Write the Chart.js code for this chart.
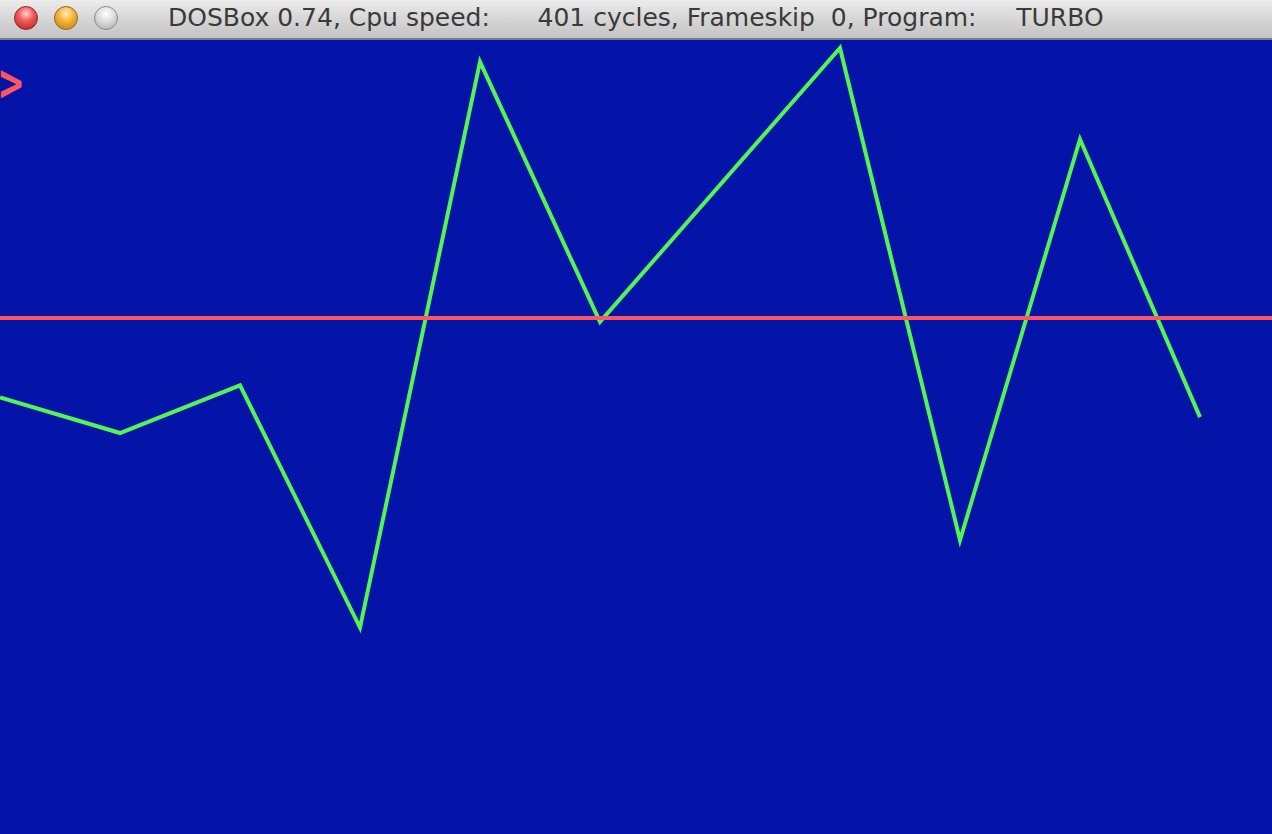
<!DOCTYPE html>
<html>
<head>
<meta charset="utf-8">
<script src="https://cdn.jsdelivr.net/npm/chart.js@4/dist/chart.umd.min.js"></script>
<style>
  html, body { margin: 0; padding: 0; width: 1272px; height: 834px; overflow: hidden; background: #0413a8; }
  #titlebar { position: absolute; left: 0; top: 0; width: 1272px; height: 38px;
    background: linear-gradient(#ececec, #d6d6d6 50%, #c4c4c4); border-bottom: 2px solid #7a7a7a; }
  .btn { position: absolute; top: 6px; width: 24px; height: 24px; border-radius: 50%; box-sizing: border-box; }
  #b1 { left: 14px; background: radial-gradient(circle at 50% 30%, #ffd0d0 0%, #f05a5a 40%, #b81c1c 100%); border: 1px solid #8a2a2a; }
  #b2 { left: 54px; background: radial-gradient(circle at 50% 30%, #fff0c0 0%, #f6b538 40%, #c07a0a 100%); border: 1px solid #8a6a2a; }
  #b3 { left: 94px; background: radial-gradient(circle at 50% 30%, #ffffff 0%, #dcdcdc 45%, #a8a8a8 100%); border: 1px solid #8a8a8a; }
  #title { position: absolute; left: 168px; top: 3px; font-family: "DejaVu Sans", sans-serif; font-size: 25px;
    color: #3a3a3a; white-space: pre; letter-spacing: 0px; }
  #prompt { position: absolute; left: -1px; top: 55px; font-family: "DejaVu Sans Mono", monospace; font-weight: bold;
    font-size: 40px; color: #ff5560; line-height: 1; transform: scaleY(1.35); transform-origin: top left; }
  #wrap { position: absolute; left: 0; top: 40px; width: 1272px; height: 794px; }
</style>
</head>
<body>
<div id="titlebar">
  <div class="btn" id="b1"></div><div class="btn" id="b2"></div><div class="btn" id="b3"></div>
  <div id="title">DOSBox 0.74, Cpu speed:      401 cycles, Frameskip  0, Program:     TURBO</div>
</div>
<div id="prompt">&gt;</div>
<div id="wrap"><canvas id="c" width="1272" height="794"></canvas></div>
<script>
// Data
const xSteps   = [0, 1, 2, 3, 4, 5, 7, 8, 9, 10];
const yValues  = [-20, -29, -17, -78, 64.5, -1, 68, -56, 45, -25];
const refX     = [0, 10.6];
const refY     = [0, 0];

const curve = xSteps.map((x, i) => ({ x: x, y: yValues[i] }));
const ref = refX.map((x, i) => ({ x: x, y: refY[i] }));

new Chart(document.getElementById('c'), {
  type: 'line',
  data: {
    datasets: [
      { data: ref, borderColor: '#ff5560', borderWidth: 4, pointRadius: 0, tension: 0 },
      { data: curve, borderColor: '#52f552', borderWidth: 4, pointRadius: 0, tension: 0, borderJoinStyle: 'miter' }
    ]
  },
  options: {
    responsive: false,
    animation: false,
    layout: { padding: 0 },
    plugins: { legend: { display: false }, tooltip: { enabled: false } },
    scales: {
      x: { type: 'linear', min: 0, max: 10.6, display: false },
      y: { type: 'linear', min: -130, max: 70, display: false }
    }
  }
});
</script>
</body>
</html>
